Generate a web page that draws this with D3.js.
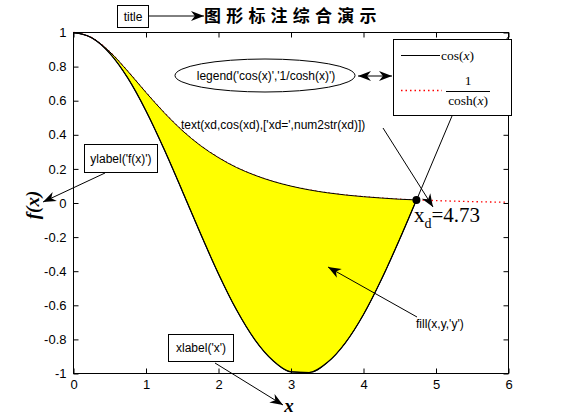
<!DOCTYPE html>
<html><head><meta charset="utf-8">
<script src="https://cdn.jsdelivr.net/npm/d3@7/dist/d3.min.js"></script>
<style>
body{margin:0;background:#fff;}
svg{display:block;}
</style>
</head><body>
<svg id="chart" width="561" height="420"></svg>
<script>
// ---- data ----
const xd = 4.73;
const yd = 0.018;
const cosX = [0,0.25,0.5,0.75,1.0,1.25,1.5,1.75,2.0,2.25,2.5,2.75,3.0,3.25,3.5,3.75,4.0,4.25,4.5,4.73];
const cosY = [1,0.969,0.878,0.732,0.540,0.315,0.071,-0.178,-0.416,-0.628,-0.801,-0.924,-0.990,-0.994,-0.936,-0.820,-0.654,-0.446,-0.211,0.018];
const schX = [0,0.25,0.5,0.75,1.0,1.25,1.5,1.75,2.0,2.25,2.5,2.75,3.0,3.25,3.5,3.75,4.0,4.25,4.5,4.73,5.0,5.25,5.5,5.75,6.0];
const schY = [1,0.970,0.887,0.772,0.648,0.530,0.425,0.337,0.266,0.208,0.163,0.127,0.099,0.077,0.060,0.047,0.037,0.029,0.022,0.018,0.014,0.011,0.008,0.006,0.005];
const xTicks = [0,1,2,3,4,5,6];
const xTickLabels = ["0","1","2","3","4","5","6"];
const yTicks = [1,0.8,0.6,0.4,0.2,0,-0.2,-0.4,-0.6,-0.8,-1];
const yTickLabels = ["1","0.8","0.6","0.4","0.2","0","-0.2","-0.4","-0.6","-0.8","-1"];
const titleText = "图形标注综合演示";

const svg = d3.select("#chart");
const L = 73.5, R = 508.5, T = 32.5, B = 373.5;
const x = d3.scaleLinear().domain([0,6]).range([L,R]);
const y = d3.scaleLinear().domain([-1,1]).range([B,T]);
const sans = "'Liberation Sans', Arial, sans-serif";
const serif = "'Liberation Serif', 'Times New Roman', serif";

const cosPts = cosX.map((v,i)=>[v,cosY[i]]);
const schPts = schX.map((v,i)=>[v,schY[i]]);
const line = d3.line().x(d=>x(d[0])).y(d=>y(d[1])).curve(d3.curveMonotoneX);

const plot = svg.append("g");
// red dotted 1/cosh
plot.append("path").attr("d", line(schPts)).attr("fill","none")
  .attr("stroke","#ff0000").attr("stroke-width",1.3).attr("stroke-dasharray","1.5,3");
// fill between
const schIn = schPts.filter(d=>d[0]<=xd+1e-9);
const fillPath = line(cosPts) + "L" + line(schIn.slice().reverse()).slice(1) + "Z";
plot.append("path").attr("d", fillPath).attr("fill","#ffff00").attr("stroke","#000").attr("stroke-width",1);
// cos line
plot.append("path").attr("d", line(cosPts)).attr("fill","none").attr("stroke","#000").attr("stroke-width",1.2);
// marker
plot.append("circle").attr("cx",x(xd)).attr("cy",y(yd)).attr("r",4).attr("fill","#000");

// axes box
svg.append("rect").attr("x",L).attr("y",T).attr("width",R-L).attr("height",B-T)
  .attr("fill","none").attr("stroke","#000").attr("stroke-width",1);

function styleAxis(g){ g.select(".domain").remove(); g.selectAll("line").attr("stroke","#000"); g.selectAll("text").attr("font-family",sans).attr("font-size","13px").attr("fill","#000"); }
svg.append("g").attr("transform",`translate(0,${B})`)
  .call(d3.axisBottom(x).tickValues(xTicks).tickFormat((d,i)=>xTickLabels[i]).tickSizeInner(-5).tickSizeOuter(0).tickPadding(6))
  .call(styleAxis);
svg.append("g").attr("transform",`translate(0,${T})`)
  .call(d3.axisTop(x).tickValues(xTicks).tickFormat("").tickSizeInner(-5).tickSizeOuter(0))
  .call(styleAxis);
svg.append("g").attr("transform",`translate(${L},0)`)
  .call(d3.axisLeft(y).tickValues(yTicks).tickFormat((d,i)=>yTickLabels[i]).tickSizeInner(-5).tickSizeOuter(0).tickPadding(7))
  .call(styleAxis);
svg.append("g").attr("transform",`translate(${R},0)`)
  .call(d3.axisRight(y).tickValues(yTicks).tickFormat("").tickSizeInner(-5).tickSizeOuter(0))
  .call(styleAxis);

// arrow helper
function arrowHead(x1,y1,x2,y2,len=13,w=5){
  const a = Math.atan2(y2-y1,x2-x1);
  const ux=Math.cos(a), uy=Math.sin(a), px=-uy, py=ux;
  const bx=x2-ux*len, by=y2-uy*len;
  const nx=x2-ux*len*0.7, ny=y2-uy*len*0.7;
  return `M${x2},${y2}L${bx+px*w},${by+py*w}L${nx},${ny}L${bx-px*w},${by-py*w}Z`;
}
function arrow(x1,y1,x2,y2,both=false){
  const g = svg.append("g");
  g.append("line").attr("x1",x1).attr("y1",y1).attr("x2",x2).attr("y2",y2).attr("stroke","#000").attr("stroke-width",1);
  g.append("path").attr("d",arrowHead(x1,y1,x2,y2)).attr("fill","#000");
  if(both) g.append("path").attr("d",arrowHead(x2,y2,x1,y1)).attr("fill","#000");
}

// x_d text and its annotation lines
svg.append("line").attr("x1",x(xd)+1).attr("y1",y(yd)-2).attr("x2",452).attr("y2",116).attr("stroke","#000");
svg.append("line").attr("x1",503).attr("y1",44).attr("x2",509).attr("y2",36).attr("stroke","#000");
const xdT = svg.append("text").attr("x",414).attr("y",222).attr("font-family",serif).attr("font-size","21px").attr("fill","#000");
xdT.append("tspan").text("x");
xdT.append("tspan").attr("font-size","14px").attr("dy",6).text("d");
xdT.append("tspan").attr("dy",-6).text("=4.73");

svg.append("text").attr("x",181).attr("y",129).attr("font-family",sans).attr("font-size","12px").text("text(xd,cos(xd),['xd=',num2str(xd)])");
arrow(383,128,433,207);

// legend box
const lg = svg.append("g");
lg.append("rect").attr("x",393.5).attr("y",39.5).attr("width",118).attr("height",76).attr("fill","#fff").attr("stroke","#000");
lg.append("line").attr("x1",401).attr("x2",440).attr("y1",55.5).attr("y2",55.5).attr("stroke","#000");
lg.append("text").attr("x",441).attr("y",60).attr("font-family",serif).attr("font-size","13.5px")
  .html("cos(<tspan font-style='italic'>x</tspan>)");
lg.append("line").attr("x1",401).attr("x2",442).attr("y1",90.5).attr("y2",90.5).attr("stroke","#ff0000")
  .attr("stroke-width",1.3).attr("stroke-dasharray","1.5,3");
lg.append("text").attr("x",468).attr("y",85).attr("text-anchor","middle").attr("font-family",serif).attr("font-size","13.5px").text("1");
lg.append("line").attr("x1",446).attr("x2",490).attr("y1",91.5).attr("y2",91.5).attr("stroke","#000");
lg.append("text").attr("x",468).attr("y",105).attr("text-anchor","middle").attr("font-family",serif).attr("font-size","13.5px")
  .html("cosh(<tspan font-style='italic'>x</tspan>)");

// legend ellipse annotation
svg.append("ellipse").attr("cx",265).attr("cy",75.5).attr("rx",90).attr("ry",16.5).attr("fill","none").attr("stroke","#000");
svg.append("text").attr("x",266).attr("y",80).attr("text-anchor","middle").attr("font-family",sans).attr("font-size","12px").text("legend('cos(x)','1/cosh(x)')");
arrow(358,76,392,76,true);

// title annotation
svg.append("rect").attr("x",117.5).attr("y",5.5).attr("width",31).attr("height",22).attr("fill","#fff").attr("stroke","#000");
svg.append("text").attr("x",133).attr("y",21).attr("text-anchor","middle").attr("font-family",sans).attr("font-size","12px").text("title");
arrow(149,16,204,16);
svg.append("text").attr("x",204).attr("y",22).attr("font-family","'Noto Sans CJK SC', sans-serif").attr("font-weight","bold")
  .attr("font-size","17px").attr("letter-spacing","5.2px").text(titleText);

// ylabel annotation
svg.append("rect").attr("x",84.5).attr("y",144.5).attr("width",73).attr("height",28).attr("fill","#fff").attr("stroke","#000");
svg.append("text").attr("x",121).attr("y",163).attr("text-anchor","middle").attr("font-family",sans).attr("font-size","12px").text("ylabel('f(x)')");
arrow(105,173,43,202);
svg.append("text").attr("transform","translate(39,205) rotate(-90)").attr("text-anchor","middle")
  .attr("font-family",serif).attr("font-style","italic").attr("font-weight","bold").attr("font-size","19px").text("f(x)");

// xlabel annotation
svg.append("rect").attr("x",168.5).attr("y",334.5).attr("width",65).attr("height",27).attr("fill","#fff").attr("stroke","#000");
svg.append("text").attr("x",201).attr("y",352).attr("text-anchor","middle").attr("font-family",sans).attr("font-size","12px").text("xlabel('x')");
arrow(215,363,283,405);
svg.append("text").attr("x",289).attr("y",412).attr("text-anchor","middle")
  .attr("font-family",serif).attr("font-style","italic").attr("font-weight","bold").attr("font-size","19px").text("x");

// fill annotation
arrow(417,317,328,267);
svg.append("text").attr("x",416).attr("y",328).attr("font-family",sans).attr("font-size","12px").text("fill(x,y,'y')");
</script>
</body></html>
